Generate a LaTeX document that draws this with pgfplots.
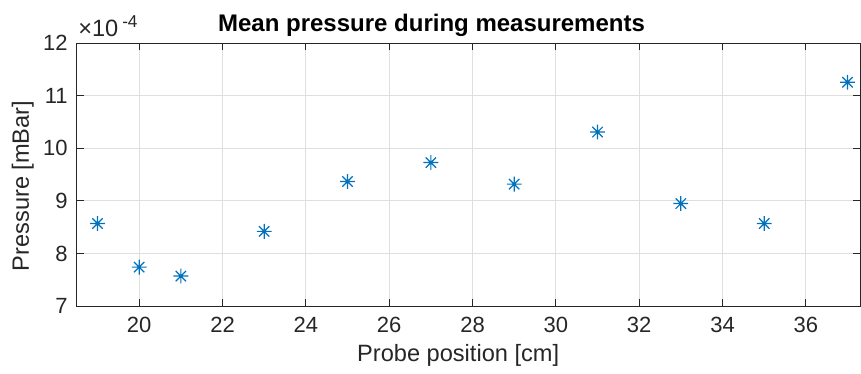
\documentclass[border=0pt]{standalone}
\usepackage{fontspec}
\setmainfont{Liberation Sans}
\usepackage{pgfplots}
\pgfplotsset{compat=1.18}

\definecolor{mblue}{RGB}{0,114,189}
\definecolor{axgray}{RGB}{38,38,38}
\definecolor{gridgray}{RGB}{223,223,223}

% eight-armed asterisk: a plus sign with a slightly shorter cross on top
\pgfdeclareplotmark{mlstar}{%
  \pgfpathmoveto{\pgfqpoint{-\pgfplotmarksize}{0pt}}%
  \pgfpathlineto{\pgfqpoint{\pgfplotmarksize}{0pt}}%
  \pgfpathmoveto{\pgfqpoint{0pt}{-\pgfplotmarksize}}%
  \pgfpathlineto{\pgfqpoint{0pt}{\pgfplotmarksize}}%
  \pgfpathmoveto{\pgfqpoint{-0.7\pgfplotmarksize}{-0.7\pgfplotmarksize}}%
  \pgfpathlineto{\pgfqpoint{0.7\pgfplotmarksize}{0.7\pgfplotmarksize}}%
  \pgfpathmoveto{\pgfqpoint{-0.7\pgfplotmarksize}{0.7\pgfplotmarksize}}%
  \pgfpathlineto{\pgfqpoint{0.7\pgfplotmarksize}{-0.7\pgfplotmarksize}}%
  \pgfusepathqstroke}

\begin{document}
\begin{tikzpicture}
\begin{axis}[
  at={(0pt,0pt)}, anchor=south west,
  width=391.65pt, height=131.35pt, scale only axis,
  xmin=18.5, xmax=37.3,
  ymin=7e-4, ymax=12e-4,
  xtick={20,22,...,36},
  ytick={7e-4,8e-4,9e-4,10e-4,11e-4,12e-4},
  scaled y ticks=base 10:4,
  ytick scale label code/.code={},
  /pgf/number format/assume math mode=true,
  tick label style={font=\fontsize{11}{12}\selectfont, text=axgray},
  xticklabel style={yshift=-2pt},
  yticklabel style={xshift=-1pt},
  grid=major,
  major grid style={gridgray, line width=0.5pt},
  axis line style={axgray, line width=0.5pt},
  tick style={axgray, line width=0.5pt},
  tick align=inside,
  major tick length=3.5pt,
  xtick pos=both, ytick pos=both,
  every axis title shift=0pt,
  title={\bfseries Mean pressure during measurements},
  title style={font=\fontsize{12}{14}\selectfont, at={(rel axis cs:0.453,1)}, anchor=base, yshift=5.8pt},
  xlabel={Probe position [cm]},
  xlabel style={font=\fontsize{11.8}{14}\selectfont, text=axgray, at={(rel axis cs:0.487,0)}, anchor=base, yshift=-27.8pt},
  clip=false,
]
\addplot[only marks, mark=mlstar, mark size=3.7pt, mblue, mark options={line width=0.6pt}]
  coordinates {
    (19, 8.57e-4)
    (20, 7.74e-4)
    (21, 7.57e-4)
    (23, 8.42e-4)
    (25, 9.37e-4)
    (27, 9.73e-4)
    (29, 9.32e-4)
    (31, 10.31e-4)
    (33, 8.95e-4)
    (35, 8.57e-4)
    (37, 11.26e-4)
  };
% y axis label
\path (rel axis cs:0,0.457) ++(-23.85pt,0pt)
  node[rotate=90, anchor=base, inner sep=0pt, text=axgray, font=\fontsize{11.8}{14}\selectfont] {Pressure [mBar]};
% exponent of the y axis values, set above the top left corner
\node[anchor=base west, inner sep=0pt, text=axgray, font=\fontsize{11.8}{13}\selectfont]
  at (rel axis cs:0,1) [xshift=0.6pt, yshift=3.3pt]
  {×10\,\raisebox{4.5pt}{\fontsize{8.6}{10}\selectfont -4}};
\end{axis}
\pgfresetboundingbox
\useasboundingbox (-38.35pt,-34pt) rectangle (392.15pt,153pt);
\end{tikzpicture}
\end{document}
